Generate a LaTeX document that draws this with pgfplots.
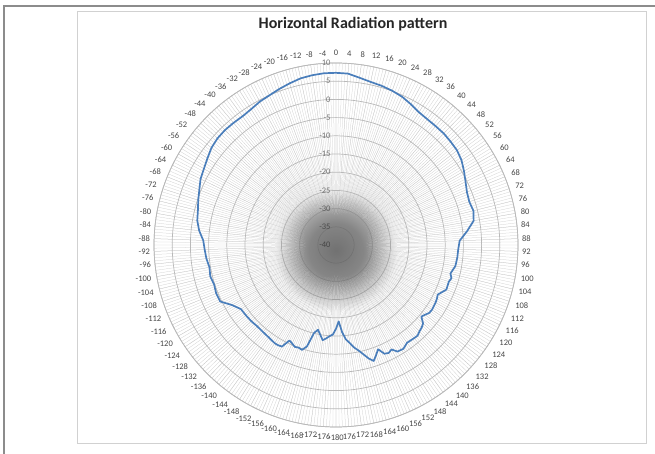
\documentclass[border=0pt]{standalone}
\usepackage{fontspec}
\setmainfont{Carlito}
\usepackage{pgfplots}
\pgfplotsset{compat=1.18}
\usepackage{pgfplotstable}
\usepgfplotslibrary{polar}
\usetikzlibrary{fadings}

\definecolor{lineblue}{RGB}{74,126,187}
\definecolor{spoke}{RGB}{205,205,205}
\definecolor{ring}{RGB}{185,185,185}
\definecolor{lbl}{RGB}{70,70,70}

% dark centre, soft rim
\pgfdeclareradialshading{blobshade}{\pgfpointorigin}{color(0bp)=(pgftransparent!0); color(8.5bp)=(pgftransparent!22); color(19bp)=(pgftransparent!100); color(50bp)=(pgftransparent!100)}
\pgfdeclarefading{blobfade}{\pgfuseshading{blobshade}}

% angle clockwise from north (deg), level (dB)
\pgfplotstableread{
ang db
0 7.3
4 7.2
8 6.4
12 5.8
16 5.5
20 5.1
24 4.6
28 3.8
32 3.0
36 2.7
40 2.6
44 2.6
48 2.4
52 2.2
56 1.6
60 0.6
64 -0.4
68 -1.2
72 -1.5
76 -1.1
80 -1.6
84 -3.8
88 -6.0
92 -6.4
96 -6.5
100 -6.7
104 -7.6
106 -7.0
108 -7.4
112 -7.3
116 -8.9
118 -8.6
120 -8.4
124 -8.2
126 -8.3
128 -8.9
130 -9.4
132 -7.8
134 -7.3
136 -7.0
138 -6.5
140 -6.6
144 -6.8
147 -6.0
150 -6.2
152 -7.5
154 -7.0
156 -7.3
158 -9.1
160 -7.8
162 -6.5
164 -7.6
166 -9.1
168 -10.4
170 -11.4
172 -12.8
174 -13.9
176 -16.0
178 -19.0
180 -17.0
182 -15.4
184 -14.9
186 -14.2
188 -13.6
190 -15.0
192 -16.2
194 -15.1
196 -11.0
198 -9.7
200 -10.0
202 -9.8
204 -10.4
206 -10.8
208 -8.4
210 -8.2
212 -8.2
216 -8.6
220 -8.8
224 -8.9
228 -8.7
232 -8.6
236 -8.5
240 -7.0
244 -4.6
248 -4.5
252 -4.8
256 -4.4
260 -4.7
264 -4.2
268 -3.9
272 -3.5
276 -2.2
280 -1.3
284 -0.9
288 -0.2
292 0.5
296 1.4
300 1.9
304 2.6
308 3.4
312 3.8
316 3.9
320 3.8
324 3.7
328 4.0
332 4.6
336 5.0
340 5.6
344 6.2
348 6.8
352 7.1
356 7.3
360 7.3
}\hpattern

\begin{document}
\begin{tikzpicture}[x=1pt,y=1pt]
\useasboundingbox (0,0) rectangle (655,454);
% screenshot frame
\draw[black!45, line width=2pt] (4,0) -- (4,448) -- (655,448);
\draw[black!18, line width=0.8pt] (77,11) rectangle (646,443);
\node[font=\bfseries\fontsize{16}{19}\selectfont, text=black!85] at (353,430) {Horizontal Radiation pattern};

\begin{polaraxis}[
  at={(336pt,209pt)}, anchor=center,
  scale only axis, width=364pt, height=364pt,
  xmin=90, xmax=450, ymin=0, ymax=50,
  xtick={90,94,...,446},
  xticklabels={0,-4,-8,-12,-16,-20,-24,-28,-32,-36,-40,-44,-48,-52,-56,-60,-64,-68,-72,-76,-80,-84,-88,-92,-96,-100,-104,-108,-112,-116,-120,-124,-128,-132,-136,-140,-144,-148,-152,-156,-160,-164,-168,-172,-176,-180,176,172,168,164,160,156,152,148,144,140,136,132,128,124,120,116,112,108,104,100,96,92,88,84,80,76,72,68,64,60,56,52,48,44,40,36,32,28,24,20,16,12,8,4},
  minor xtick={90,91,...,450},
  ytick={0,5,...,50},
  yticklabels={-40,-35,-30,-25,-20,-15,-10,-5,0,5,10},
  major tick length=0pt, minor tick length=0pt,
  xmajorgrids, xminorgrids, ymajorgrids,
  major x grid style={spoke, line width=0.25pt},
  minor x grid style={spoke, line width=0.25pt},
  major y grid style={ring, line width=0.7pt},
  axis line style={ring, line width=0.7pt},
  y axis line style={draw opacity=0},
  xticklabel style={font=\fontsize{8.5}{10}\selectfont, text=lbl, inner xsep=4pt, inner ysep=7pt},
  yticklabel style={font=\fontsize{8.5}{10}\selectfont, text=black!55, anchor=east, xshift=-2pt},
]
% shadow where the spokes meet, multiplied so the labels show through
\fill[black!44, path fading=blobfade, blend mode=multiply] (axis cs:270,1.5) circle[radius=80pt];
\addplot[lineblue, line width=1.7pt, line join=round, no markers]
  table[x expr={450-\thisrow{ang}}, y expr={\thisrow{db}+40}] {\hpattern};
\end{polaraxis}
\end{tikzpicture}
\end{document}
